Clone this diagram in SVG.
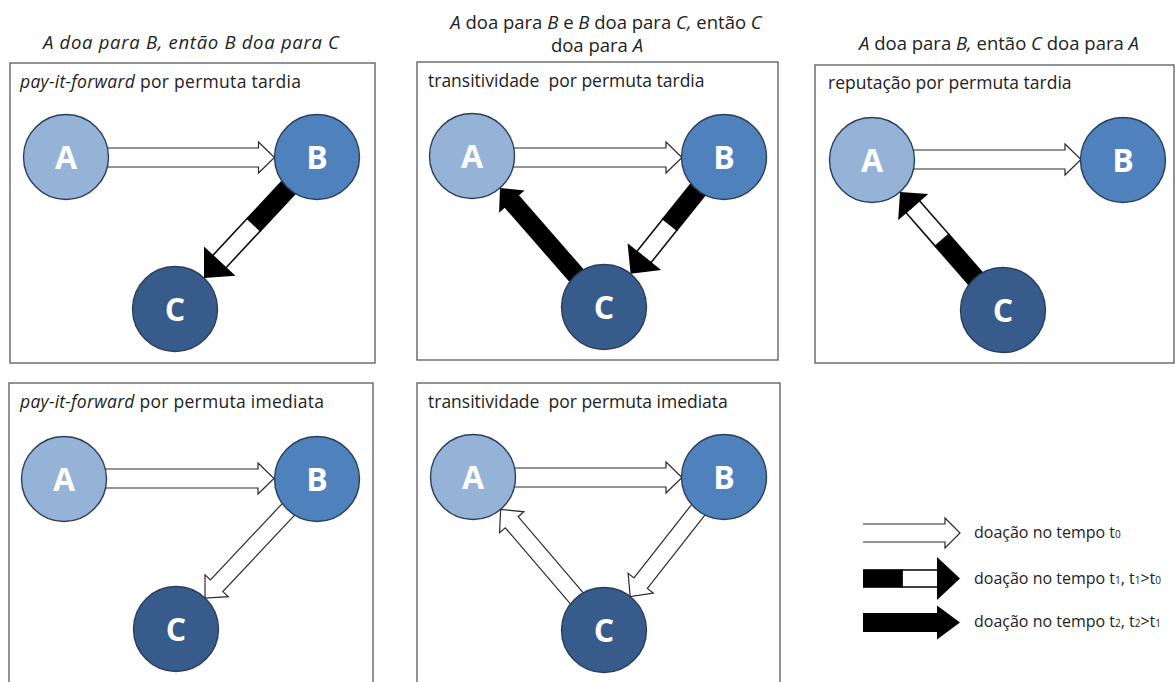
<svg xmlns="http://www.w3.org/2000/svg" width="1175" height="682" viewBox="0 0 1175 682">
<style>
.bg{fill:#ffffff}
.box{fill:none;stroke:#595959;stroke-width:1.3}
text{font-family:"Open Sans","Liberation Sans",sans-serif;fill:#222222}
.title{font-size:18.5px;text-anchor:middle}
.sub{font-size:17.5px}
.leg{font-size:16px}
.sb{font-size:10px}
.it{font-style:italic}
.lbl{font-size:32px;font-weight:bold;fill:#ffffff;text-anchor:middle}
.node{stroke:#2a3e5a;stroke-width:1.4}
.nA{fill:#95b3d7}
.nB{fill:#4f81bd}
.nC{fill:#375b8b}
.wa{fill:#ffffff;stroke:#2b2b2b;stroke-width:1.2}
.wp{fill:#ffffff;stroke:#111111;stroke-width:1.6}
.blk{fill:#000000}
</style>
<rect class="bg" x="0" y="0" width="1175" height="682"/>

<!-- titles -->
<text class="title it" x="191" y="48.5" textLength="296" lengthAdjust="spacing">A doa para B, então B doa para C</text>
<text class="title" x="606" y="28.5"><tspan class="it">A</tspan> doa para <tspan class="it">B</tspan> e <tspan class="it">B</tspan> doa para <tspan class="it">C,</tspan> então <tspan class="it">C</tspan></text>
<text class="title" x="597" y="51.5">doa para <tspan class="it">A</tspan></text>
<text class="title" x="999" y="50"><tspan class="it">A</tspan> doa para <tspan class="it">B,</tspan> então <tspan class="it">C</tspan> doa para <tspan class="it">A</tspan></text>

<!-- panels -->
<g id="panel-1">
<rect class="box" x="10" y="63" width="365" height="300"/>
<text class="sub" x="20" y="87.5" textLength="281" lengthAdjust="spacing"><tspan class="it">pay-it-forward</tspan> por permuta tardia</text>
</g>
<g id="panel-2">
<rect class="box" x="417" y="62" width="361" height="298"/>
<text class="sub" x="428" y="86.5">transitividade&#160; por permuta tardia</text>
</g>
<g id="panel-3">
<rect class="box" x="815" y="65" width="359" height="298"/>
<text class="sub" x="828" y="89">reputação por permuta tardia</text>
</g>
<g id="panel-4">
<rect class="box" x="9" y="383" width="364" height="320"/>
<text class="sub" x="20" y="407.5" textLength="304" lengthAdjust="spacing"><tspan class="it">pay-it-forward</tspan> por permuta imediata</text>
</g>
<g id="panel-5">
<rect class="box" x="417" y="383" width="363" height="320"/>
<text class="sub" x="428" y="407.5">transitividade&#160; por permuta imediata</text>
</g>

<!-- connectors -->
<g id="connectors">
<!-- panel 1 -->
<path class="wa" transform="translate(108.5,157.5)" d="M-8,-9.5 H150 V-15.5 L166,0 L150,15.5 V9.5 H-8"/>
<g transform="translate(288,188.1) rotate(133.05)">
<rect class="wp" x="50" y="-9" width="51" height="18"/>
<rect class="blk" x="-10" y="-9.8" width="60.5" height="19.6"/>
<polygon class="blk" points="100,-21.5 123,0 100,21.5"/>
</g>
<!-- panel 2 -->
<path class="wa" transform="translate(514.5,157.5)" d="M-8,-9.5 H151.5 V-15.5 L167.5,0 L151.5,15.5 V9.5 H-8"/>
<g transform="translate(697.45,190.19) rotate(128.66)">
<rect class="wp" x="44" y="-9" width="42" height="18"/>
<rect class="blk" x="-10" y="-9.8" width="54.5" height="19.6"/>
<polygon class="blk" points="85,-21.5 107,0 85,21.5"/>
</g>
<polygon class="blk" transform="translate(576.03,275) rotate(-131.16)" points="-10,-9.5 97.5,-9.5 97.5,-17 115.5,0 97.5,17 97.5,9.5 -10,9.5"/>
<!-- panel 3 -->
<path class="wa" transform="translate(914.5,159.5)" d="M-8,-9.5 H150.5 V-15.5 L166.5,0 L150.5,15.5 V9.5 H-8"/>
<g transform="translate(975.04,277.99) rotate(-131.13)">
<rect class="wp" x="50" y="-9" width="45" height="18"/>
<rect class="blk" x="-10" y="-9.8" width="60.5" height="19.6"/>
<polygon class="blk" points="94,-20 114,0 94,20"/>
</g>
<!-- panel 4 -->
<path class="wa" transform="translate(106.5,478.5)" d="M-8,-9.5 H151.5 V-15.5 L167.5,0 L151.5,15.5 V9.5 H-8"/>
<path class="wa" transform="translate(287.89,509.97) rotate(133.23)" d="M-8,-8.5 H104 V-16 L121,0 L104,16 V8.5 H-8"/>
<!-- panel 5 -->
<path class="wa" transform="translate(515.5,477.5)" d="M-8,-9.5 H150.5 V-15.5 L166.5,0 L150.5,15.5 V9.5 H-8"/>
<path class="wa" transform="translate(697.77,510.44) rotate(128.11)" d="M-8,-8.5 H92.5 V-16 L109.5,0 L92.5,16 V8.5 H-8"/>
<path class="wa" transform="translate(576.36,597.72) rotate(-130.57)" d="M-8,-8.5 H99.4 V-16 L116.4,0 L99.4,16 V8.5 H-8"/>
</g>

<!-- nodes -->
<g id="p1-A"><circle class="node nA" cx="66" cy="157" r="42.5"/><text class="lbl" x="66" y="168.5">A</text></g>
<g id="p1-B"><circle class="node nB" cx="317" cy="157" r="42.5"/><text class="lbl" x="317" y="168.5">B</text></g>
<g id="p1-C"><circle class="node nC" cx="175" cy="309" r="42.5"/><text class="lbl" x="175" y="320.5">C</text></g>

<g id="p2-A"><circle class="node nA" cx="472" cy="156" r="42.5"/><text class="lbl" x="472" y="167.5">A</text></g>
<g id="p2-B"><circle class="node nB" cx="724" cy="157" r="42.5"/><text class="lbl" x="724" y="168.5">B</text></g>
<g id="p2-C"><circle class="node nC" cx="604" cy="307" r="42.5"/><text class="lbl" x="604" y="318.5">C</text></g>

<g id="p3-A"><circle class="node nA" cx="872" cy="160" r="42.5"/><text class="lbl" x="872" y="171.5">A</text></g>
<g id="p3-B"><circle class="node nB" cx="1123" cy="160" r="42.5"/><text class="lbl" x="1123" y="171.5">B</text></g>
<g id="p3-C"><circle class="node nC" cx="1003" cy="310" r="42.5"/><text class="lbl" x="1003" y="321.5">C</text></g>

<g id="p4-A"><circle class="node nA" cx="64" cy="479" r="42.5"/><text class="lbl" x="64" y="490.5">A</text></g>
<g id="p4-B"><circle class="node nB" cx="317" cy="479" r="42.5"/><text class="lbl" x="317" y="490.5">B</text></g>
<g id="p4-C"><circle class="node nC" cx="176" cy="629" r="42.5"/><text class="lbl" x="176" y="640.5">C</text></g>

<g id="p5-A"><circle class="node nA" cx="473" cy="477" r="42.5"/><text class="lbl" x="473" y="488.5">A</text></g>
<g id="p5-B"><circle class="node nB" cx="724" cy="477" r="42.5"/><text class="lbl" x="724" y="488.5">B</text></g>
<g id="p5-C"><circle class="node nC" cx="604" cy="630" r="42.5"/><text class="lbl" x="604" y="641.5">C</text></g>

<!-- legend -->
<g id="legend">
<path class="wa" d="M863,524 H945 V518 L960,533 L945,548 V542 H863"/>
<text class="leg" x="974" y="538">doação no tempo t<tspan class="sb">0</tspan></text>
<rect class="wp" x="902" y="570" width="36" height="17"/>
<rect class="blk" x="863" y="569.2" width="39.5" height="18.6"/>
<polygon class="blk" points="937,557 960,578.5 937,600"/>
<text class="leg" x="974" y="584">doação no tempo t<tspan class="sb">1</tspan>, t<tspan class="sb">1</tspan>&gt;t<tspan class="sb">0</tspan></text>
<polygon class="blk" points="863,613 937,613 937,605.5 960,622.5 937,639.5 937,632 863,632"/>
<text class="leg" x="974" y="627">doação no tempo t<tspan class="sb">2</tspan>, t<tspan class="sb">2</tspan>&gt;t<tspan class="sb">1</tspan></text>
</g>
</svg>
